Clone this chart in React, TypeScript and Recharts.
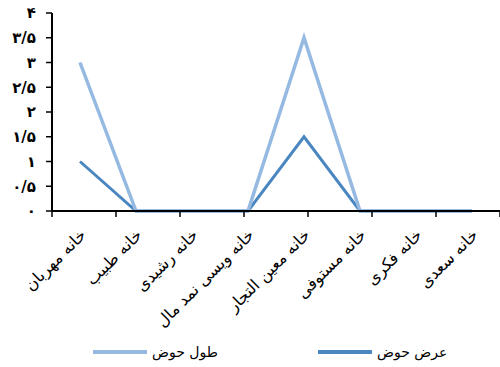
import React from "react";
import { LineChart, Line, XAxis, YAxis, Legend } from "recharts";

const houses = [
  "خانه مهربان",
  "خانه طبیب",
  "خانه رشیدی",
  "خانه ویسی نمد مال",
  "خانه معین التجار",
  "خانه مستوفی",
  "خانه فکری",
  "خانه سعدی",
];
const poolLength = [3, 0, 0, 0, 3.5, 0, 0, 0];
const poolWidth = [1, 0, 0, 0, 1.5, 0, 0, 0];
const yTicks = [0, 0.5, 1, 1.5, 2, 2.5, 3, 3.5, 4];
const boundaryTicks = [0, 1, 2, 3, 4, 5, 6, 7, 8];

const SERIES = [
  { key: "length", label: "طول حوض", color: "#95B9E1", width: 3.5 },
  { key: "width", label: "عرض حوض", color: "#4A86C0", width: 3 },
];

const data = houses.map((name, i) => ({
  name,
  length: poolLength[i],
  width: poolWidth[i],
}));

const FONT = "'DejaVu Sans', sans-serif";
const PERSIAN = "۰۱۲۳۴۵۶۷۸۹";

// 1.5 -> ۱/۵
const toPersian = (v: number) =>
  String(v)
    .replace(".", "/")
    .replace(/\d/g, (d) => PERSIAN[Number(d)]);

function HouseTick({ x, y, payload }: any) {
  return (
    <g transform={`translate(${x + 3},${y + 12})`}>
      <text
        transform="rotate(-45)"
        textAnchor="end"
        dy="0.35em"
        fontSize={16}
        fontFamily={FONT}
        fill="#000"
      >
        {payload.value}
      </text>
    </g>
  );
}

// short downward mark at each category boundary
function BoundaryMark({ x, y }: any) {
  return <line x1={x} x2={x} y1={y} y2={y + 6} stroke="#000" strokeWidth={1.5} />;
}

function SwatchLegend() {
  return (
    <div
      style={{
        display: "flex",
        height: 30,
        paddingLeft: 93,
        alignItems: "center",
        fontFamily: FONT,
        fontSize: 14,
        color: "#000",
      }}
    >
      {SERIES.map((s) => (
        <div
          key={s.key}
          style={{ display: "flex", alignItems: "center", width: 225, flexShrink: 0 }}
        >
          <span
            style={{
              display: "inline-block",
              width: 54,
              height: 4,
              background: s.color,
              marginRight: 5,
            }}
          />
          <span>{s.label}</span>
        </div>
      ))}
    </div>
  );
}

export default function App() {
  return (
    <div style={{ position: "absolute", left: 0, top: 0, background: "#fff" }}>
      <LineChart
        width={500}
        height={367}
        data={data}
        margin={{ top: 13, right: 0, bottom: 0, left: 0 }}
      >
        <XAxis
          xAxisId="bounds"
          type="number"
          domain={[0, 8]}
          ticks={boundaryTicks}
          interval={0}
          height={1}
          tickSize={0}
          tickMargin={0}
          tickLine={false}
          tick={<BoundaryMark />}
          axisLine={{ stroke: "#000", strokeWidth: 2 }}
        />
        <XAxis
          xAxisId="houses"
          dataKey="name"
          height={125}
          padding={{ left: 28, right: 28 }}
          axisLine={false}
          tickLine={false}
          interval={0}
          tick={<HouseTick />}
        />
        <YAxis
          domain={[0, 4]}
          ticks={yTicks}
          width={52}
          tickSize={6}
          tickMargin={10}
          tickFormatter={toPersian}
          axisLine={{ stroke: "#000", strokeWidth: 2 }}
          tickLine={{ stroke: "#000", strokeWidth: 1.5 }}
          tick={{ fontSize: 15, fontWeight: "bold", fill: "#000", fontFamily: FONT }}
        />
        <Legend verticalAlign="bottom" content={<SwatchLegend />} />
        {[...SERIES].reverse().map((s) => (
          <Line
            key={s.key}
            xAxisId="houses"
            dataKey={s.key}
            name={s.label}
            stroke={s.color}
            strokeWidth={s.width}
            dot={false}
            activeDot={false}
            type="linear"
            isAnimationActive={false}
          />
        ))}
      </LineChart>
    </div>
  );
}
